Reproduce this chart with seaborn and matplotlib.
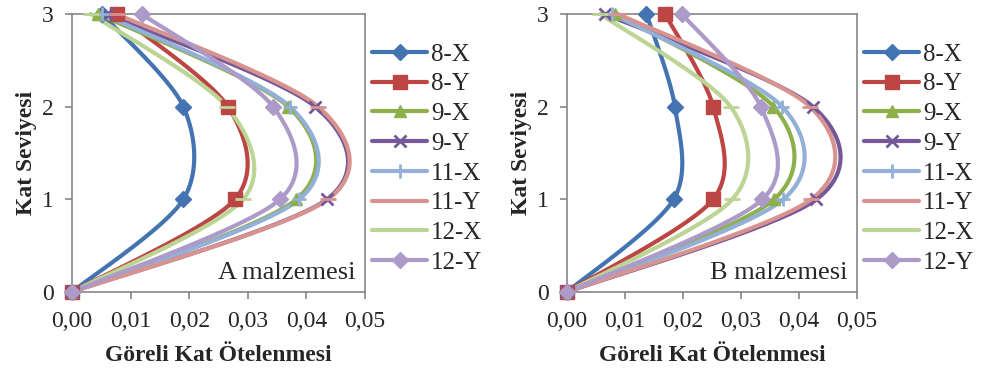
import numpy as np
import matplotlib
matplotlib.use("Agg")
from matplotlib import pyplot as plt
from matplotlib.lines import Line2D
import seaborn as sns

sns.set_style("white")
plt.rcParams['font.family'] = ['Liberation Serif', 'DejaVu Serif']

# floor levels
floors = [0, 1, 2, 3]
labels = ['8-X', '8-Y', '9-X', '9-Y', '11-X', '11-Y', '12-X', '12-Y']

# A material (drift at floors 0..3)
a_8x = [0, 0.0190, 0.0190, 0.0051]
a_8y = [0, 0.0278, 0.0266, 0.0076]
a_9x = [0, 0.0383, 0.0369, 0.0045]
a_9y = [0, 0.0435, 0.0415, 0.0059]
a_11x = [0, 0.0388, 0.0372, 0.0052]
a_11y = [0, 0.0437, 0.0420, 0.0076]
a_12x = [0, 0.0292, 0.0264, 0.0032]
a_12y = [0, 0.0355, 0.0343, 0.0119]

# B material
b_8x = [0, 0.0184, 0.0186, 0.0137]
b_8y = [0, 0.0252, 0.0252, 0.0169]
b_9x = [0, 0.0357, 0.0356, 0.0083]
b_9y = [0, 0.0430, 0.0424, 0.0066]
b_11x = [0, 0.0373, 0.0371, 0.0078]
b_11y = [0, 0.0421, 0.0419, 0.0088]
b_12x = [0, 0.0285, 0.0282, 0.0057]
b_12y = [0, 0.0337, 0.0334, 0.0198]

colors = ['#4373B0', '#BB4643', '#8DB04A', '#74589A',
          '#93B0D8', '#D9938F', '#BCD494', '#AC9BC8']
markers = ['D', 's', '^', 'x', '+', '_', '_', 'D']
msizes = [8, 10, 9, 9, 10, 11, 11, 8]


def smooth(xs, ys, n=40, k=0.15):
    # Excel-like smoothed line: bezier segments, catmull-rom style control points
    p = np.column_stack([xs, ys]).astype(float)
    ext = np.vstack([p[0], p, p[-1]])
    out = []
    for i in range(len(p) - 1):
        p0, p1 = ext[i + 1], ext[i + 2]
        c1 = p0 + (ext[i + 2] - ext[i]) * k
        c2 = p1 - (ext[i + 3] - ext[i + 1]) * k
        t = np.linspace(0, 1, n)[:, None]
        seg = ((1 - t) ** 3 * p0 + 3 * (1 - t) ** 2 * t * c1
               + 3 * (1 - t) * t ** 2 * c2 + t ** 3 * p1)
        out.append(seg if i == 0 else seg[1:])
    out = np.vstack(out)
    return out[:, 0], out[:, 1]


fig = plt.figure(figsize=(9.84, 3.74), dpi=100)
ax1 = fig.add_axes([72 / 984, 82 / 374, 293 / 984, 278 / 374])
ax2 = fig.add_axes([567 / 984, 82 / 374, 290 / 984, 278 / 374])

panels = [(ax1, [a_8x, a_8y, a_9x, a_9y, a_11x, a_11y, a_12x, a_12y], 'A malzemesi'),
          (ax2, [b_8x, b_8y, b_9x, b_9y, b_11x, b_11y, b_12x, b_12y], 'B malzemesi')]

for ax, series, name in panels:
    for vals, c, m, ms in zip(series, colors, markers, msizes):
        sx, sy = smooth(vals, floors)
        sns.lineplot(x=sx, y=sy, sort=False, estimator=None, ax=ax,
                     color=c, lw=3, clip_on=False)
        ax.plot(vals, floors, ls='none', marker=m, ms=ms, color=c,
                mew=2 if m in ('x', '+', '_') else 1, clip_on=False, zorder=3)
    ax.set_xlim(0, 0.05)
    ax.set_ylim(0, 3)
    ax.set_xticks([0, 0.01, 0.02, 0.03, 0.04, 0.05])
    ax.set_xticklabels(['0,00', '0,01', '0,02', '0,03', '0,04', '0,05'])
    ax.set_yticks([0, 1, 2, 3])
    ax.tick_params(axis='both', labelsize=17, direction='out', length=5,
                   color='#868686', width=1.2, left=True, bottom=True)
    ax.tick_params(axis='x', pad=9)
    ax.tick_params(axis='y', pad=8)
    for s in ax.spines.values():
        s.set_color('#868686')
        s.set_linewidth(1.2)
    ax.set_xlabel('Göreli Kat Ötelenmesi', fontsize=17, fontweight='bold', labelpad=9)
    ax.set_ylabel('Kat Seviyesi', fontsize=17, fontweight='bold', labelpad=4)
    ax.text(0.966, 0.03, name, transform=ax.transAxes, ha='right', va='bottom',
            fontsize=19)
    handles = [Line2D([], [], color=c, lw=3, marker=m, ms=ms,
                      mew=2 if m in ('x', '+', '_') else 1)
               for c, m, ms in zip(colors, markers, msizes)]
    ax.legend(handles, labels, loc='upper left', bbox_to_anchor=(1.025, 0.895),
              frameon=False, fontsize=18, handlelength=2.2, handletextpad=0.15,
              labelspacing=0.29, borderpad=0, borderaxespad=0)

fig.savefig('out.png', dpi=100)
